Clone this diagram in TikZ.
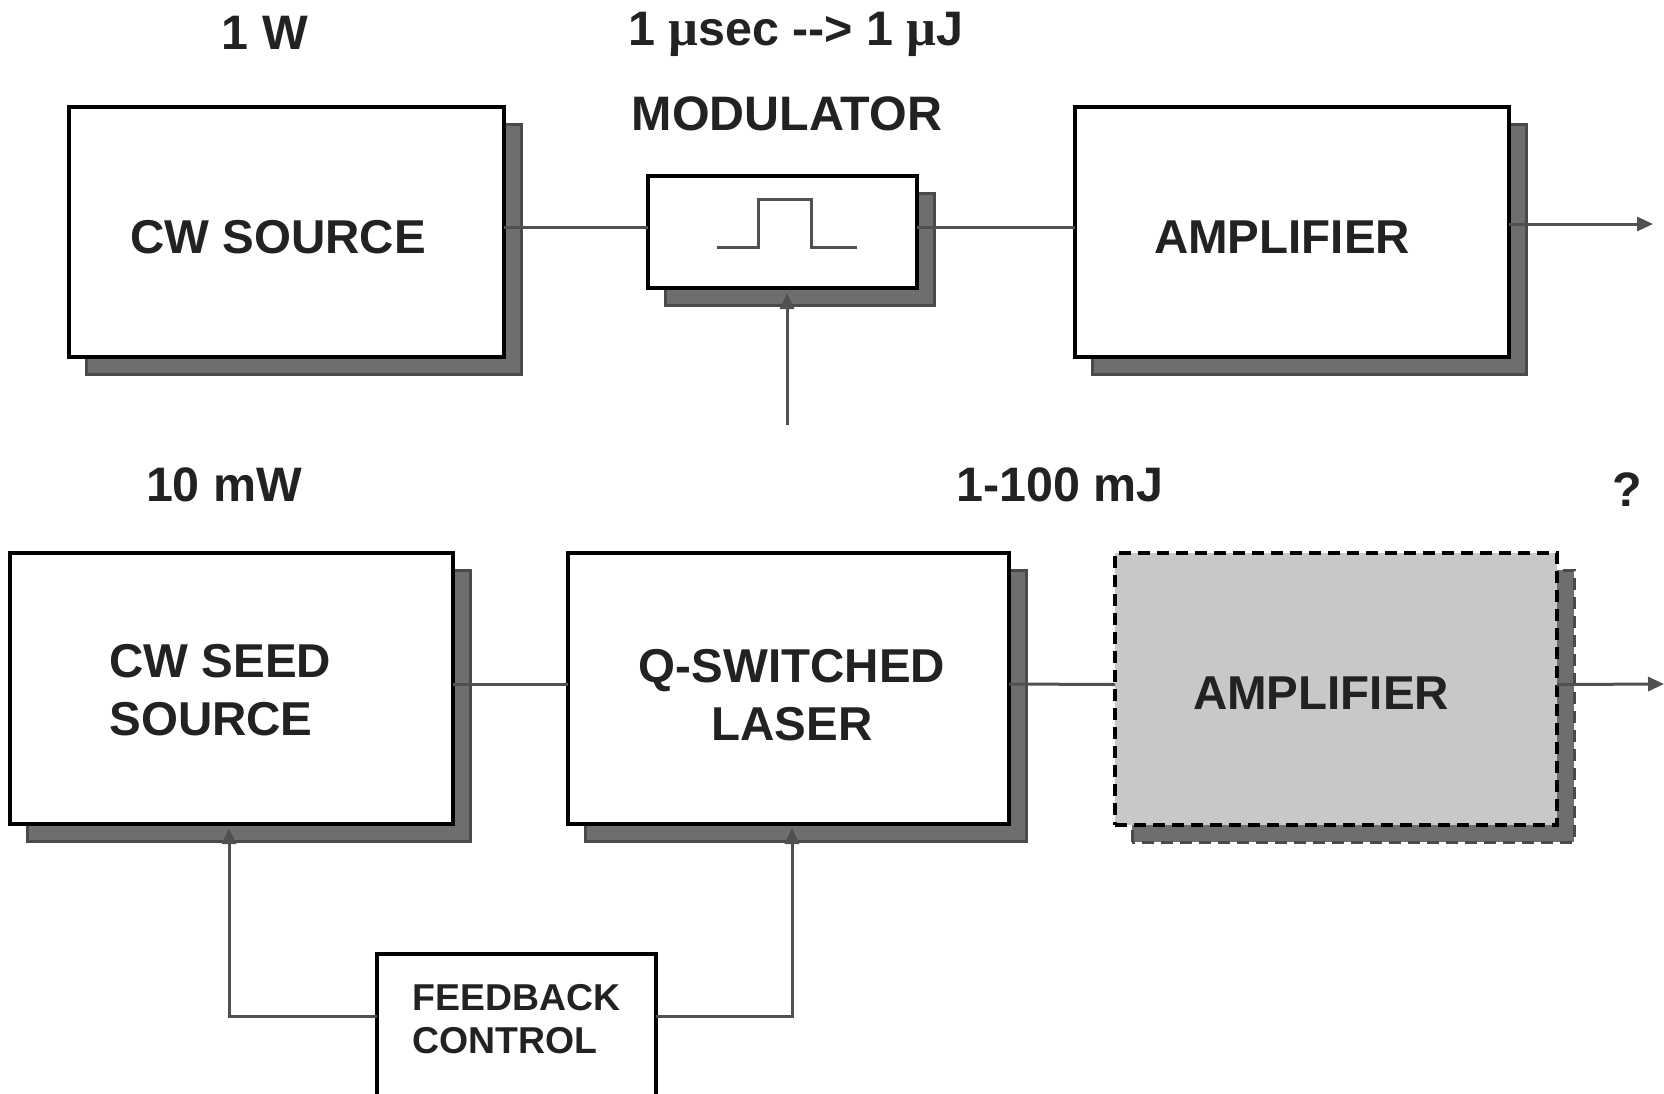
\documentclass[tikz,border=0pt]{standalone}
\usepackage{fontspec}
\setmainfont{Liberation Sans}
\newfontfamily\greekfont{Liberation Serif}
\usetikzlibrary{arrows.meta,backgrounds}

\definecolor{wirec}{HTML}{505050}
\definecolor{shadefill}{HTML}{6E6E6E}
\definecolor{shadeedge}{HTML}{4A4A4A}
\definecolor{inkc}{HTML}{222222}
\definecolor{optfill}{HTML}{C8C8C8}

\tikzset{
  blockbox/.style={draw=black, line width=2pt, fill=white, inner sep=0pt, outer sep=0pt},
  optbox/.style={blockbox, fill=optfill, dash pattern=on 6pt off 3.5pt},
  shadowbox/.style={fill=shadefill, draw=shadeedge, line width=1.5pt},
  wire/.style={draw=wirec, line width=1.5pt},
  arrowwire/.style={wire, -{Triangle[length=8pt,width=7pt]}},
  toplabel/.style={font=\bfseries\fontsize{24.2}{29}\selectfont, text=inkc, inner sep=0pt, anchor=base},
  boxtext/.style={font=\bfseries\fontsize{23.75}{29}\selectfont, text=inkc, inner sep=0pt, anchor=base},
  boxtextl/.style={boxtext, anchor=base west},
  smalltext/.style={font=\bfseries\fontsize{18.7}{22}\selectfont, text=inkc, inner sep=0pt, anchor=base west},
}

\begin{document}
\begin{tikzpicture}[x=0.5pt, y=-0.5pt]
  \useasboundingbox (0,0) rectangle (1664,1093);

  % ---- blocks ----
  \node[blockbox, minimum width=217.5pt, minimum height=125pt] (cws)  at (286.5,232) {};
  \node[blockbox, minimum width=134.5pt, minimum height=56pt]  (mod)  at (782.5,232) {};
  \node[blockbox, minimum width=217pt,   minimum height=125pt] (amp1) at (1292,232) {};
  \node[blockbox, minimum width=221.5pt, minimum height=135.5pt] (seed) at (231.5,688.5) {};
  \node[blockbox, minimum width=220.5pt, minimum height=135.5pt] (qsw)  at (788.5,688.5) {};
  \node[optbox,   minimum width=221pt,   minimum height=136pt] (amp2) at (1336,689) {};
  \node[blockbox, minimum width=139.5pt, minimum height=76pt]  (fb)   at (516.5,1030) {};

  % ---- drop shadows ----
  \begin{scope}[on background layer]
    \foreach \b in {cws,mod,amp1,seed,qsw}{
      \draw[shadowbox] ([shift={(17,17)}]\b.south west) rectangle ([shift={(17,17)}]\b.north east);
    }
    \draw[shadowbox, dash pattern=on 6pt off 3.5pt]
      ([shift={(17,17)}]amp2.south west) rectangle ([shift={(17,17)}]amp2.north east);
  \end{scope}

  % ---- labels ----
  \node[toplabel] (lw)   at (265,49)  {1 W};
  \node[toplabel] (lmu)  at (796,45)  {1 {\greekfont\fontsize{26}{29}\selectfont µ}sec -{}-{}> 1 {\greekfont\fontsize{26}{29}\selectfont µ}J};
  \node[toplabel] (lmod) at (787,130) {MODULATOR};
  \node[toplabel] (lmw)  at (224,501) {10 mW};
  \node[toplabel] (lmj)  at (1060,501) {1-100 mJ};
  \node[toplabel] (lq)   at (1627,506) {?};

  \node[boxtext]  (tcws)  at (278,253)  {CW SOURCE};
  \node[boxtext]  (tamp1) at (1282,253) {AMPLIFIER};
  \node[boxtextl] (tseed1) at (109,677) {CW SEED};
  \node[boxtextl] (tseed2) at (109,735) {SOURCE};
  \node[boxtext]  (tqsw1) at (792,682)  {Q-SWITCHED};
  \node[boxtext]  (tqsw2) at (792,740)  {LASER};
  \node[boxtext]  (tamp2) at (1321,709) {AMPLIFIER};
  \node[smalltext] (tfb1) at (412,1010) {FEEDBACK};
  \node[smalltext] (tfb2) at (412,1053) {CONTROL};

  % ---- pulse symbol in the modulator ----
  \draw[wire] (mod.center) ++(-65.5,15) -- ++(41,0) -- ++(0,-48) -- ++(53,0) -- ++(0,48) -- ++(46,0);

  % ---- connectors ----
  \coordinate (out1) at (1653,224);
  \coordinate (modin) at (787,425);
  \coordinate (out2) at (1664,684);

  \draw[wire] ([yshift=2.5pt]cws.east) -- ([yshift=2.5pt]mod.west);
  \draw[wire] ([yshift=2.5pt]mod.east) -- ([yshift=2.5pt]amp1.west);
  \draw[arrowwire] ([yshift=4pt]amp1.east) -- (out1);
  \draw[arrowwire] (modin) -- ([xshift=2.25pt,yshift=-2.5pt]mod.south);

  \draw[wire] ([yshift=2.25pt]seed.east) -- ([yshift=2.25pt]qsw.west);
  \draw[wire] ([yshift=2.25pt]qsw.east) -- ([yshift=2.25pt]amp2.west);
  \draw[arrowwire] ([yshift=2.25pt]amp2.east) -- (out2);

  \draw[arrowwire] ([yshift=7pt]fb.west) -| ([xshift=-1.25pt,yshift=-2pt]seed.south);
  \draw[arrowwire] ([yshift=7pt]fb.east) -| ([xshift=1.75pt,yshift=-2pt]qsw.south);
\end{tikzpicture}
\end{document}
